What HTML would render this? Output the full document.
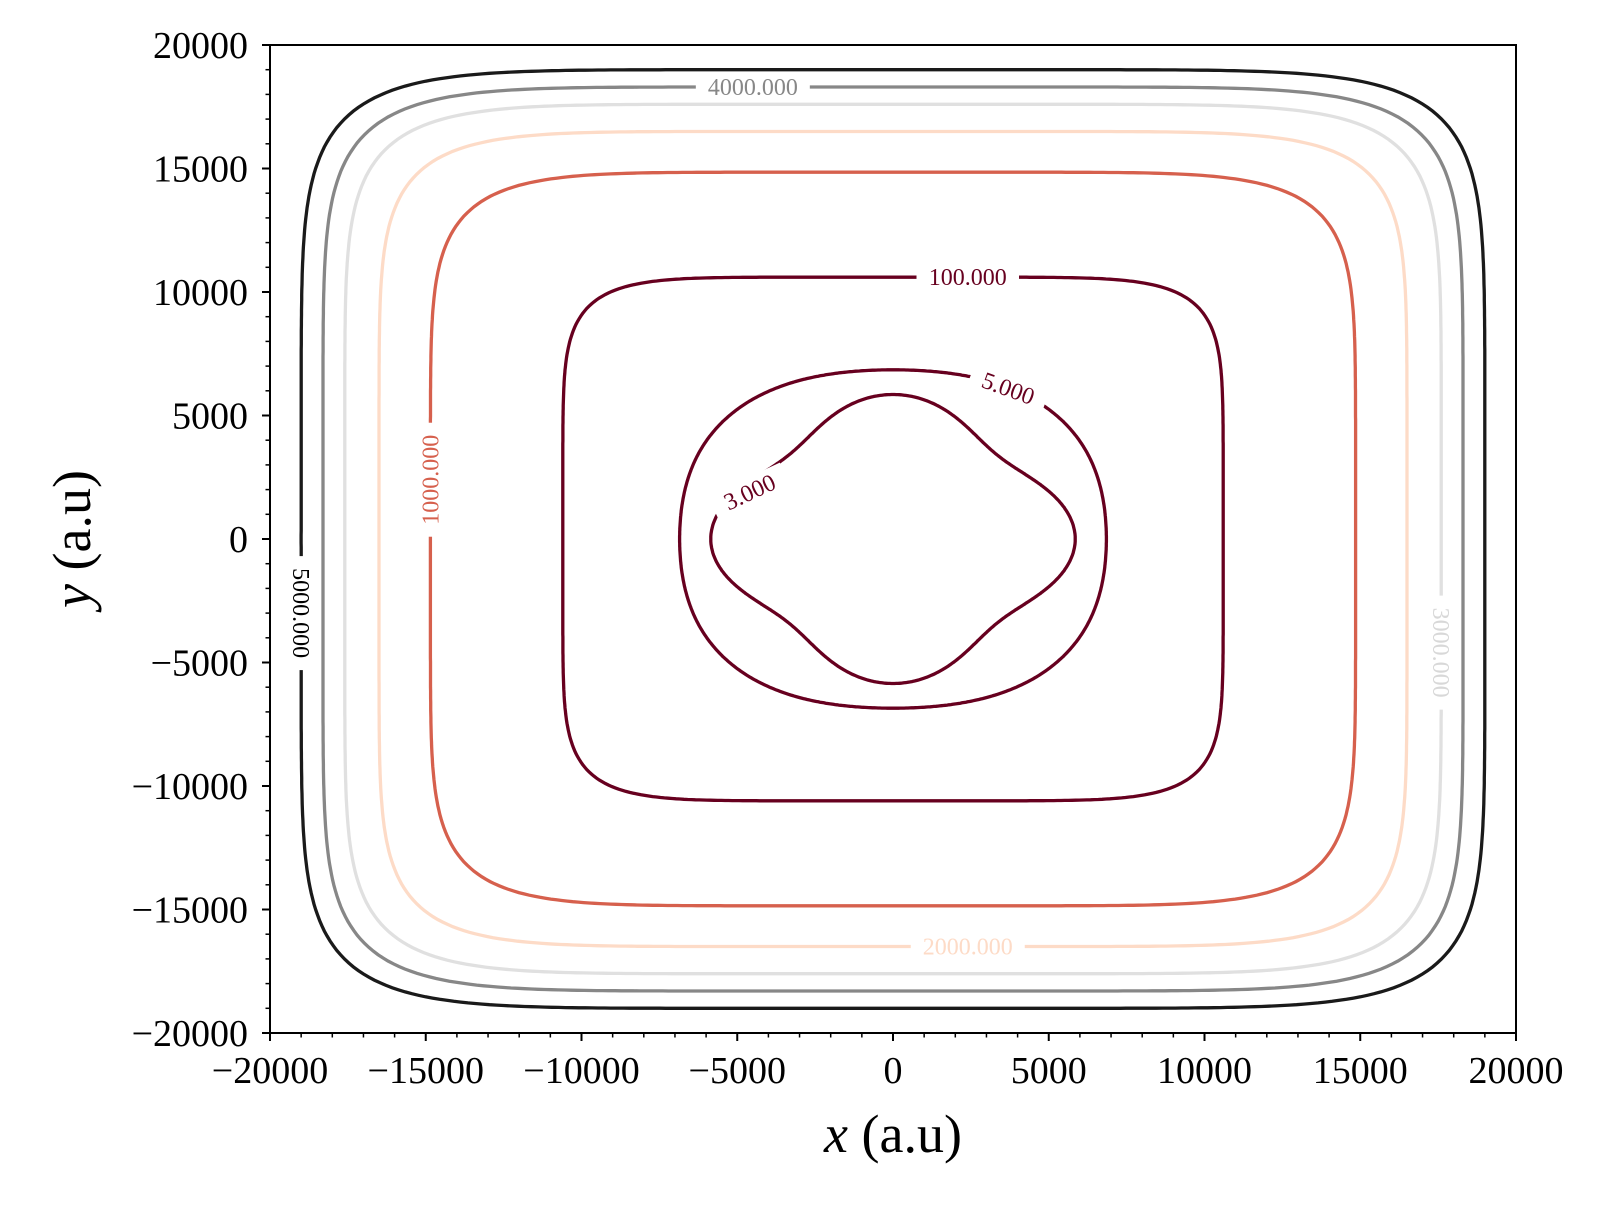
<!DOCTYPE html>
<html><head><meta charset="utf-8"><style>
body{margin:0;background:#fff}
svg text{font-family:"Liberation Serif","DejaVu Serif",serif}
</style></head><body>
<svg id="chart" width="1600" height="1200" viewBox="0 0 1600 1200">
<rect x="0" y="0" width="1600" height="1200" fill="#fff"/>
<g id="contours"></g><g id="labels"></g><g id="axes"></g>
</svg>
<script>
const levels=["5000.000","4000.000","3000.000","2000.000","1000.000","100.000","5.000","3.000"];
const halfWidths=[19000,18300,17600,16500,14850,10600,6850,5850];
const shapeExp=[7.5,7.5,7.5,7.5,7,7,0,0];
const lobeAmp=[0,0,0,0,0,0,-200,540];
const colors=["#1a1a1a","#878787","#e0e0e0","#fddbc7","#d6604d","#67001f","#67001f","#67001f"];
const labelPos=[[-19000,-3000,90],[-4500,18300,0],[17600,-4600,90],[2400,-16500,0],[-14850,2400,-90],[2400,10600,0],[3700,6100,20],[-4600,1900,-25]];
const ticks=[-20000,-15000,-10000,-5000,0,5000,10000,15000,20000];
const L=270,R=1516,T=45,B=1033;
const sx=v=>L+(v+20000)/40000*(R-L);
const sy=v=>B-(v+20000)/40000*(B-T);
const NS="http://www.w3.org/2000/svg";
function mk(t,a,p){const e=document.createElementNS(NS,t);for(const k in a)e.setAttribute(k,a[k]);p.appendChild(e);return e;}
const cg=document.getElementById('contours'),lg=document.getElementById('labels'),ag=document.getElementById('axes');
levels.forEach((lv,i)=>{
  let d="";const a=halfWidths[i],n=shapeExp[i];
  for(let k=0;k<=720;k++){
    const th=k/720*2*Math.PI;const c=Math.cos(th),s=Math.sin(th);let r;
    if(n>0){r=a/Math.pow(Math.pow(Math.abs(c),n)+Math.pow(Math.abs(s),n),1/n);}
    else{r=a-lobeAmp[i]*(1-Math.cos(4*th));}
    d+=(k?"L":"M")+sx(r*c).toFixed(1)+","+sy(r*s).toFixed(1);
  }
  const p=mk('path',{d:d+"Z",fill:"none",stroke:colors[i],"stroke-width":3.3},cg);
  
  
  const [lx,ly,rot]=labelPos[i];
  const x=sx(lx),y=sy(ly);
  const g=mk('g',{transform:`translate(${x},${y}) rotate(${rot})`},lg);
  
  
  const w=lv.length*11.5+22;
  mk('rect',{x:-w/2,y:-14,width:w,height:28,fill:"#fff"},g);
  const t=mk('text',{x:0,y:8,"text-anchor":"middle","font-size":24,fill:colors[i]==="#e0e0e0"?"#d8d8d8":(colors[i]==="#1a1a1a"?"#000":colors[i])},g);
  t.textContent=lv;
});
const frame=mk('rect',{x:L,y:T,width:R-L,height:B-T,fill:"none",stroke:"#000","stroke-width":2},ag);


for(let v=-20000;v<=20000;v+=1000){
  const maj=v%5000===0,len=maj?8:4.5;
  mk('line',{x1:sx(v),x2:sx(v),y1:B,y2:B+len,stroke:"#000","stroke-width":maj?2:1.5},ag);
  mk('line',{x1:L,x2:L-len,y1:sy(v),y2:sy(v),stroke:"#000","stroke-width":maj?2:1.5},ag);
}
ticks.forEach(v=>{
  const lab=(v<0?"\u2212":"")+Math.abs(v);
  const tx=mk('text',{x:sx(v),y:B+50,"text-anchor":"middle","font-size":38},ag);
  tx.textContent=lab;
  
  
  const ty=mk('text',{x:L-22,y:sy(v)+13,"text-anchor":"end","font-size":38},ag);
  ty.textContent=lab;
  
  
});
const xt=mk('text',{x:(L+R)/2,y:1152,"text-anchor":"middle","font-size":54},ag);
xt.innerHTML='<tspan font-style="italic">x</tspan> (a.u)';


const yt=mk('text',{x:0,y:0,"text-anchor":"middle","font-size":54,transform:`translate(90,${(T+B)/2}) rotate(-90)`},ag);
yt.innerHTML='<tspan font-style="italic">y</tspan> (a.u)';


</script>
</body></html>
